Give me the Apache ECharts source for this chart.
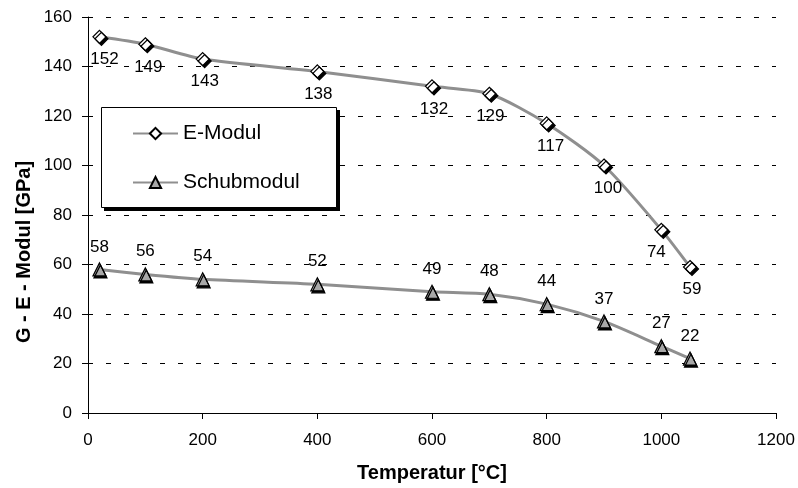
<!DOCTYPE html>
<html>
<head>
<meta charset="utf-8">
<script src="https://cdn.jsdelivr.net/npm/echarts@6/dist/echarts.min.js"></script>
<style>html,body{margin:0;padding:0;background:#fff}#c{width:798px;height:488px}</style>
</head>
<body>
<div id="c"></div>
<script>
var temperatures = [20, 100, 200, 400, 600, 700, 800, 900, 1000, 1050];
var eModul = [152, 149, 143, 138, 132, 129, 117, 100, 74, 59];
var schubModul = [58, 56, 54, 52, 49, 48, 44, 37, 27, 22];
var xTicks = [0, 200, 400, 600, 800, 1000, 1200];
var yTicks = [0, 20, 40, 60, 80, 100, 120, 140, 160];

var eLabelShift = [5, 3, 2, 1, 2, 1, 4, 4, -5, 2];
var FONT = 'Arial, "Liberation Sans", sans-serif';

var chart = echarts.init(document.getElementById('c'), null, {renderer: 'canvas'});

var eData = temperatures.map(function (t, i) {
  return {value: [t, eModul[i]], label: {offset: [eLabelShift[i], 0]}};
});
var sData = temperatures.map(function (t, i) { return [t, schubModul[i]]; });

chart.setOption({
  animation: false,
  backgroundColor: '#ffffff',
  textStyle: {fontFamily: FONT},
  grid: {left: 88, right: 22, top: 17, bottom: 73, containLabel: false},
  xAxis: {
    type: 'value', min: xTicks[0], max: xTicks[xTicks.length - 1], interval: 200,
    name: 'Temperatur [°C]', nameLocation: 'middle', nameGap: 50,
    nameTextStyle: {fontSize: 20, fontWeight: 'bold', color: '#000', fontFamily: FONT},
    axisLine: {show: true, lineStyle: {color: '#000', width: 1}},
    axisTick: {show: true, inside: false, length: 6, lineStyle: {color: '#000'}},
    axisLabel: {fontSize: 17, color: '#000', margin: 19, fontFamily: FONT,
      formatter: function (v) { return String(v); }},
    splitLine: {show: false}
  },
  yAxis: {
    type: 'value', min: yTicks[0], max: yTicks[yTicks.length - 1], interval: 20,
    axisLine: {show: true, lineStyle: {color: '#000', width: 1}},
    axisTick: {show: true, inside: false, length: 6, lineStyle: {color: '#000'}},
    axisLabel: {fontSize: 17, color: '#000', margin: 16, fontFamily: FONT},
    splitLine: {show: true, lineStyle: {color: '#000', width: 1, type: [5, 13]}}
  },
  graphic: [
    {
      type: 'text', x: 24, y: 252, rotation: Math.PI / 2,
      style: {text: 'G - E - Modul [GPa]', fontSize: 20, fontWeight: 'bold', fill: '#000',
        fontFamily: FONT, textAlign: 'center', textVerticalAlign: 'middle'}
    },
    {
      type: 'rect', z: 3, shape: {x: 104, y: 110, width: 236, height: 101},
      style: {fill: '#000'}
    },
    {
      type: 'rect', z: 3, shape: {x: 101.5, y: 107.5, width: 235, height: 100},
      style: {fill: '#fff', stroke: '#000', lineWidth: 1}
    }
  ],
  legend: {
    orient: 'vertical', left: 101, top: 109,
    padding: [14, 29, 14, 31],
    itemWidth: 45, itemHeight: 14, itemGap: 28,
    textStyle: {fontSize: 21, color: '#000', fontFamily: FONT},
    data: ['E-Modul', 'Schubmodul'],
    z: 4
  },
  series: [
    {
      name: 'E-Modul', type: 'line', smooth: 0.25,
      data: eData,
      symbol: 'diamond', symbolSize: 13,
      lineStyle: {color: '#8f8f8f', width: 3},
      itemStyle: {color: '#ffffff', borderColor: '#000', borderWidth: 1.2,
        shadowColor: '#000', shadowBlur: 0, shadowOffsetX: 2, shadowOffsetY: 2},
      label: {show: true, position: 'bottom', distance: 7, fontSize: 17, color: '#000', fontFamily: FONT,
        formatter: function (p) { return p.value[1]; }},
      z: 3
    },
    {
      name: 'Schubmodul', type: 'line', smooth: 0.25,
      data: sData,
      symbol: 'triangle', symbolSize: 13,
      lineStyle: {color: '#8f8f8f', width: 3},
      itemStyle: {color: '#a8a8a8', borderColor: '#000', borderWidth: 1.2,
        shadowColor: '#000', shadowBlur: 0, shadowOffsetX: 1, shadowOffsetY: 2},
      label: {show: true, position: 'top', distance: 7, fontSize: 17, color: '#000', fontFamily: FONT,
        formatter: function (p) { return p.value[1]; }},
      z: 3
    }
  ]
});
</script>
</body>
</html>
